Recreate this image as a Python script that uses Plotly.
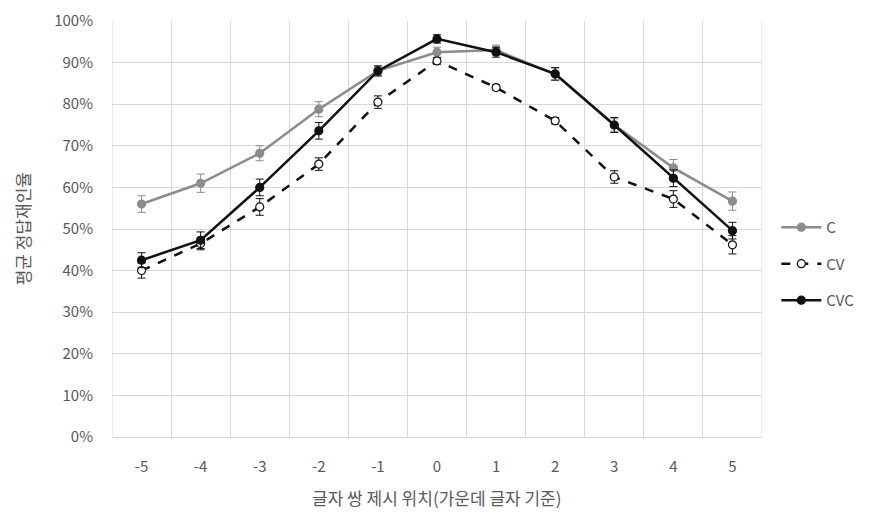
import plotly.graph_objects as go

positions = [-5, -4, -3, -2, -1, 0, 1, 2, 3, 4, 5]
tick_labels = ["-5", "-4", "-3", "-2", "-1", "0", "1", "2", "3", "4", "5"]

c_vals = [0.560, 0.610, 0.682, 0.788, 0.880, 0.925, 0.930, 0.872, 0.750, 0.647, 0.567]
c_err = [0.020, 0.022, 0.018, 0.018, 0.012, 0.012, 0.012, 0.015, 0.015, 0.020, 0.022]

cv_vals = [0.400, 0.465, 0.553, 0.656, 0.805, 0.904, 0.840, 0.760, 0.625, 0.572, 0.462]
cv_err = [0.018, 0.015, 0.020, 0.015, 0.015, 0.008, 0.006, 0.008, 0.015, 0.020, 0.022]

cvc_vals = [0.425, 0.473, 0.600, 0.736, 0.880, 0.957, 0.925, 0.873, 0.750, 0.622, 0.496]
cvc_err = [0.018, 0.020, 0.020, 0.020, 0.012, 0.010, 0.012, 0.015, 0.018, 0.020, 0.020]

FONT = "Noto Sans CJK KR"
TXT = "#595959"
GRID = "#d9d9d9"

fig = go.Figure()

def add(name, vals, errs, color, dash, mcolor):
    fig.add_trace(go.Scatter(
        x=positions, y=vals, name=name, mode="lines+markers", legendgroup=name,
        line=dict(color=color, width=2.5, dash=dash),
        marker=dict(size=8, color=mcolor, line=dict(color=color, width=1.2), symbol="circle"),
        error_y=dict(type="data", array=errs, visible=True, color=color, thickness=1, width=4),
    ))

add("C", c_vals, c_err, "#8c8c8c", "solid", "#8c8c8c")
add("CV", cv_vals, cv_err, "#111111", "dash", "#ffffff")
add("CVC", cvc_vals, cvc_err, "#111111", "solid", "#111111")

# category boundary gridlines at the plot edges
for xv in (-5.5, 5.5):
    fig.add_shape(type="line", xref="x", yref="paper", x0=xv, x1=xv, y0=0, y1=1,
                  line=dict(color=GRID, width=1), layer="below")

# page body has an 8px margin; size figure so plot lands where the reference has it
fig.update_layout(
    width=867, height=509,
    margin=dict(l=104, r=113, t=13, b=80, autoexpand=False),
    paper_bgcolor="white", plot_bgcolor="white",
    font=dict(family=FONT, color=TXT, size=14),
    legend=dict(x=1.022, y=0.416, xanchor="left", yanchor="middle",
                font=dict(size=15, color=TXT), tracegroupgap=14,
                traceorder="grouped", itemwidth=40),
    showlegend=True,
)

fig.update_xaxes(
    range=[-5.5, 5.5], tickmode="array", tickvals=positions, ticktext=tick_labels,
    showgrid=False, zeroline=False, showline=True, linecolor=GRID, linewidth=1,
    ticks="", tickfont=dict(size=15, color=TXT), ticklabelstandoff=16, automargin=False,
    minor=dict(tickmode="linear", tick0=-5.5, dtick=1, showgrid=True,
               gridcolor=GRID, gridwidth=1, ticks=""),
)

fig.update_yaxes(
    range=[0, 1.0], tickmode="linear", tick0=0, dtick=0.1, tickformat=".0%",
    showgrid=True, gridcolor=GRID, gridwidth=1, zeroline=False,
    showline=False, ticks="", tickfont=dict(size=15, color=TXT),
    ticklabelstandoff=18, automargin=False,
)

fig.add_annotation(text="글자 쌍 제시 위치(가운데 글자 기준)", xref="paper", yref="paper",
                   x=0.5, y=-0.145, xanchor="center", yanchor="middle", showarrow=False,
                   font=dict(size=17, color=TXT))
fig.add_annotation(text="평균 정답재인율", xref="paper", yref="paper",
                   x=-0.138, y=0.5, xanchor="center", yanchor="middle", showarrow=False,
                   textangle=-90, font=dict(size=17, color=TXT))

fig.write_html("out.html")
